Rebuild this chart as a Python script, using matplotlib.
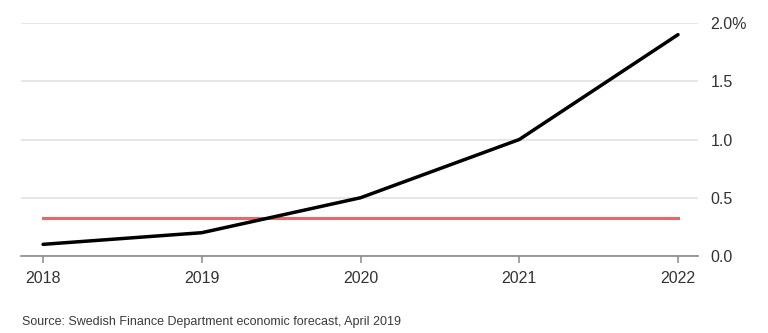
import matplotlib
matplotlib.use("Agg")
import matplotlib.pyplot as plt
from matplotlib.ticker import FuncFormatter

# datos
anios = [2018, 2019, 2020, 2021, 2022]
inflacion = [0.1, 0.2, 0.5, 1.0, 1.9]
objetivo = 0.33
ticks_y = [0.0, 0.5, 1.0, 1.5, 2.0]
fuente = "Source: Swedish Finance Department economic forecast, April 2019"

plt.rcParams['font.family'] = ['Liberation Sans', 'DejaVu Sans']

fig = plt.figure(figsize=(7.68, 3.33), dpi=100)
ax = fig.add_axes([21/768, 77/333, 677/768, 233/333])

ax.plot(anios, [objetivo] * len(anios), color='#e8676c', lw=2.2, zorder=2)
ax.plot(anios, inflacion, color='black', lw=2.5, zorder=3,
        solid_capstyle='round', solid_joinstyle='round')

ax.set_xlim(2017.861, 2022.126)
ax.set_ylim(0, 2.0)
ax.set_xticks(anios)
ax.set_xticklabels([str(a) for a in anios])
ax.set_yticks(ticks_y)
ax.yaxis.set_major_formatter(FuncFormatter(
    lambda v, p: f"{v:.1f}%" if v == max(ticks_y) else f"{v:.1f}"))
ax.yaxis.tick_right()

ax.grid(axis='y', color='#e2e2e2', lw=1.2, zorder=0)
ax.set_axisbelow(True)
for lado in ['top', 'left', 'right']:
    ax.spines[lado].set_visible(False)
ax.spines['bottom'].set_color('#8a8a8a')
ax.spines['bottom'].set_linewidth(1.2)

ax.tick_params(axis='x', length=5, width=1.1, color='#8a8a8a', pad=6,
               labelsize=11.5, labelcolor='#333333')
ax.tick_params(axis='y', length=0, pad=9, labelsize=11.5, labelcolor='#333333')

fig.text(22/768, 1 - 322/333, fuente, fontsize=9.0, color='#3a3a3a',
         ha='left', va='center')

fig.savefig("out.png", dpi=100)
